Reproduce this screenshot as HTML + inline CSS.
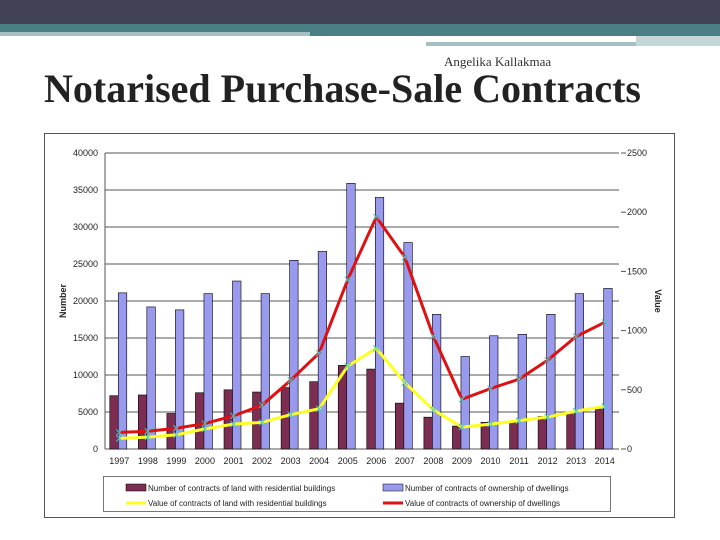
<!DOCTYPE html>
<html><head><meta charset="utf-8"><style>
body{margin:0;width:720px;height:540px;background:#fff;overflow:hidden;position:relative;font-family:"Liberation Sans",sans-serif}
.a{position:absolute}
</style></head><body>
<div class="a" style="left:0;top:0;width:720px;height:24px;background:#424257"></div>
<div class="a" style="left:0;top:24px;width:720px;height:8px;background:#4a7f85"></div>
<div class="a" style="left:0;top:32px;width:310px;height:4px;background:#a6bfc3"></div>
<div class="a" style="left:310px;top:32px;width:410px;height:4px;background:#4a7f85"></div>
<div class="a" style="left:426px;top:42px;width:210px;height:4px;background:#a6bfc3"></div>
<div class="a" style="left:636px;top:36px;width:84px;height:10px;background:#c5d6d8"></div>
<div class="a" style="left:444px;top:54px;font:13px 'Liberation Serif',serif;color:#333">Angelika Kallakmaa</div>
<div class="a" style="left:44px;top:65px;font:bold 40px 'Liberation Serif',serif;color:#222;white-space:nowrap">Notarised Purchase-Sale Contracts</div>
<svg class="a" style="left:0;top:0" width="720" height="540" id="c"></svg>
<script>
const years=["1997","1998","1999","2000","2001","2002","2003","2004","2005","2006","2007","2008","2009","2010","2011","2012","2013","2014"];
const landCount=[7200,7300,4800,7600,8000,7700,8300,9100,11300,10800,6200,4300,3100,3600,3600,4400,5000,5400];
const dwellCount=[21100,19200,18800,21000,22700,21000,25500,26700,35900,34000,27900,18200,12500,15300,15500,18200,21000,21700];
const landValue=[90,100,120,170,210,225,290,340,700,850,560,330,185,210,240,270,320,360];
const dwellValue=[140,150,175,215,280,370,580,810,1430,1960,1620,950,420,510,590,750,950,1070];
const leftTicks=[0,5000,10000,15000,20000,25000,30000,35000,40000];
const rightTicks=[0,500,1000,1500,2000,2500];
const NS="http://www.w3.org/2000/svg",svg=document.getElementById('c');
const X0=105,X1=619,Y0=449,Y1=153,step=(X1-X0)/years.length;
const yL=v=>Y0-(v/40000)*(Y0-Y1), yR=v=>Y0-(v/2500)*(Y0-Y1), xc=i=>X0+step*(i+0.5);
function mk(t,a,p){const e=document.createElementNS(NS,t);for(const k in a)e.setAttribute(k,a[k]);(p||svg).appendChild(e);return e;}
function tx(s,x,y,anchor,size,extra){const e=mk('text',Object.assign({x:x,y:y,'text-anchor':anchor,'font-size':size,fill:'#222','font-family':'Liberation Sans, sans-serif'},extra||{}));e.textContent=s;return e;}
const fr=mk('rect',{x:44.5,y:133.5,width:630,height:384,fill:'#fff',stroke:'#555'});

leftTicks.forEach(v=>{const g=mk('line',{x1:X0,x2:X1,y1:yL(v),y2:yL(v),stroke:'#555','stroke-width':1});

const t=tx(String(v),98,yL(v)+3,'end',9);});
rightTicks.forEach(v=>{mk('line',{x1:X1+2,x2:X1+7,y1:yR(v),y2:yR(v),stroke:'#555'});
const t=tx(String(v),627,yR(v)+3,'start',9);});
mk('line',{x1:X0,x2:X0,y1:Y1,y2:Y0,stroke:'#555'});
const yt=tx('Number',66,301,'middle',9,{'font-weight':'bold',transform:'rotate(-90 66 301)'});
const yt2=tx('Value',655,301,'middle',9,{'font-weight':'bold',transform:'rotate(90 655 301)'});
years.forEach((y,i)=>{
const b1=mk('rect',{x:xc(i)-9.5,y:yL(landCount[i]),width:9,height:Y0-yL(landCount[i]),fill:'#7b2d52',stroke:'#000','stroke-width':0.6});

const b2=mk('rect',{x:xc(i)-1,y:yL(dwellCount[i]),width:8.5,height:Y0-yL(dwellCount[i]),fill:'#9999ee',stroke:'#000','stroke-width':0.6});

const t=tx(y,xc(i),464,'middle',9);});
function line(arr,col,name){const p=mk('polyline',{points:arr.map((v,i)=>xc(i)+','+yR(v)).join(' '),fill:'none',stroke:col,'stroke-width':3,'stroke-linejoin':'round'});

arr.forEach((v,i)=>{const m=mk('path',{d:`M${xc(i)-3},${yR(v)-3}l6,6m0,-6l-6,6`,stroke:'#4cc',"stroke-width":1});});}
line(landValue,'#ffff22','line-land-value');
line(dwellValue,'#dd1111','line-dwellings-value');
const lg=mk('rect',{x:103.5,y:476.5,width:507,height:35,fill:'#fff',stroke:'#777'});
const ents=[[131,488,'#7b2d52','rect','Number of contracts of land with residential buildings'],[388,488,'#9999ee','rect','Number of contracts of ownership of dwellings'],[131,503,'#ffff22','line','Value of contracts of land with residential buildings'],[388,503,'#dd1111','line','Value of contracts of ownership of dwellings']];
ents.forEach(e=>{if(e[3]=='rect'){mk('rect',{x:e[0]-5,y:e[1]-4,width:20,height:7,fill:e[2],stroke:'#000','stroke-width':0.5});}else{mk('line',{x1:e[0]-5,x2:e[0]+15,y1:e[1],y2:e[1],stroke:e[2],'stroke-width':3});}
const t=tx(e[4],e[0]+17,e[1]+3,'start',8);});
</script>
</body></html>
